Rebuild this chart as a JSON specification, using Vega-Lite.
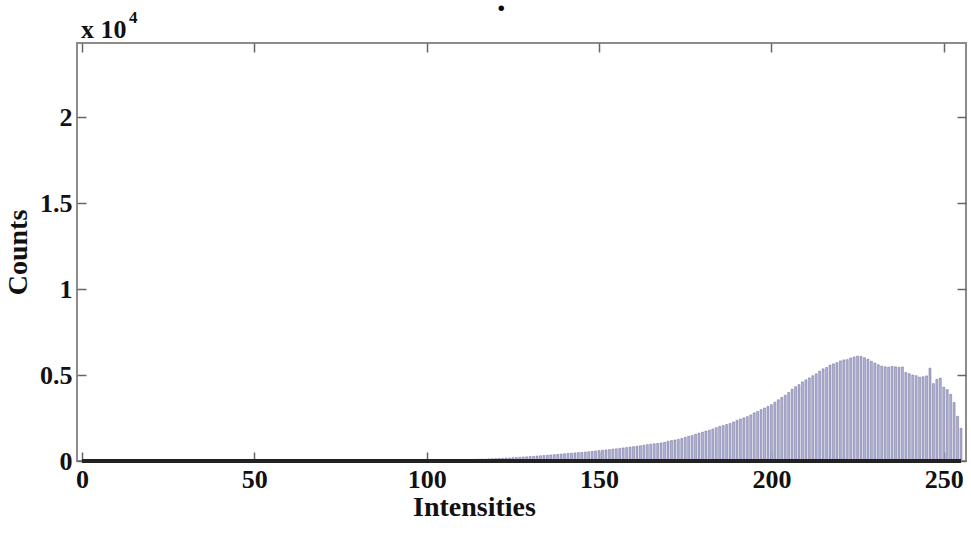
{
  "$schema": "https://vega.github.io/schema/vega-lite/v6.json",
  "width": 889,
  "height": 418,
  "autosize": "none",
  "padding": {"left": 77, "top": 43, "right": 5, "bottom": 76},
  "background": "white",
  "config": {
    "view": {"stroke": "#8c8c8c", "strokeWidth": 2},
    "font": "Liberation Serif"
  },
  "data": {
    "values": [
      {"intensity": 0, "count": 0}, {"intensity": 1, "count": 0}, {"intensity": 2, "count": 0}, {"intensity": 3, "count": 0},
      {"intensity": 4, "count": 0}, {"intensity": 5, "count": 0}, {"intensity": 6, "count": 0}, {"intensity": 7, "count": 0},
      {"intensity": 8, "count": 0}, {"intensity": 9, "count": 0}, {"intensity": 10, "count": 0}, {"intensity": 11, "count": 0},
      {"intensity": 12, "count": 0}, {"intensity": 13, "count": 0}, {"intensity": 14, "count": 0}, {"intensity": 15, "count": 0},
      {"intensity": 16, "count": 0}, {"intensity": 17, "count": 0}, {"intensity": 18, "count": 0}, {"intensity": 19, "count": 0},
      {"intensity": 20, "count": 0}, {"intensity": 21, "count": 0}, {"intensity": 22, "count": 0}, {"intensity": 23, "count": 0},
      {"intensity": 24, "count": 0}, {"intensity": 25, "count": 0}, {"intensity": 26, "count": 0}, {"intensity": 27, "count": 0},
      {"intensity": 28, "count": 0}, {"intensity": 29, "count": 0}, {"intensity": 30, "count": 0}, {"intensity": 31, "count": 0},
      {"intensity": 32, "count": 0}, {"intensity": 33, "count": 0}, {"intensity": 34, "count": 0}, {"intensity": 35, "count": 0},
      {"intensity": 36, "count": 0}, {"intensity": 37, "count": 0}, {"intensity": 38, "count": 0}, {"intensity": 39, "count": 0},
      {"intensity": 40, "count": 0}, {"intensity": 41, "count": 0}, {"intensity": 42, "count": 0}, {"intensity": 43, "count": 0},
      {"intensity": 44, "count": 0}, {"intensity": 45, "count": 0}, {"intensity": 46, "count": 0}, {"intensity": 47, "count": 0},
      {"intensity": 48, "count": 0}, {"intensity": 49, "count": 0}, {"intensity": 50, "count": 0}, {"intensity": 51, "count": 0},
      {"intensity": 52, "count": 0}, {"intensity": 53, "count": 0}, {"intensity": 54, "count": 0}, {"intensity": 55, "count": 0},
      {"intensity": 56, "count": 0}, {"intensity": 57, "count": 0}, {"intensity": 58, "count": 0}, {"intensity": 59, "count": 0},
      {"intensity": 60, "count": 0}, {"intensity": 61, "count": 0}, {"intensity": 62, "count": 0}, {"intensity": 63, "count": 0},
      {"intensity": 64, "count": 0}, {"intensity": 65, "count": 0}, {"intensity": 66, "count": 0}, {"intensity": 67, "count": 0},
      {"intensity": 68, "count": 0}, {"intensity": 69, "count": 0}, {"intensity": 70, "count": 0}, {"intensity": 71, "count": 0},
      {"intensity": 72, "count": 0}, {"intensity": 73, "count": 0}, {"intensity": 74, "count": 0}, {"intensity": 75, "count": 0},
      {"intensity": 76, "count": 0}, {"intensity": 77, "count": 0}, {"intensity": 78, "count": 0}, {"intensity": 79, "count": 0},
      {"intensity": 80, "count": 0}, {"intensity": 81, "count": 0}, {"intensity": 82, "count": 0}, {"intensity": 83, "count": 0},
      {"intensity": 84, "count": 0}, {"intensity": 85, "count": 0}, {"intensity": 86, "count": 0}, {"intensity": 87, "count": 0},
      {"intensity": 88, "count": 0}, {"intensity": 89, "count": 0}, {"intensity": 90, "count": 0}, {"intensity": 91, "count": 0},
      {"intensity": 92, "count": 0}, {"intensity": 93, "count": 0}, {"intensity": 94, "count": 0}, {"intensity": 95, "count": 0},
      {"intensity": 96, "count": 2}, {"intensity": 97, "count": 4}, {"intensity": 98, "count": 8}, {"intensity": 99, "count": 12},
      {"intensity": 100, "count": 20}, {"intensity": 101, "count": 25}, {"intensity": 102, "count": 28}, {"intensity": 103, "count": 32},
      {"intensity": 104, "count": 38}, {"intensity": 105, "count": 42}, {"intensity": 106, "count": 48}, {"intensity": 107, "count": 52},
      {"intensity": 108, "count": 58}, {"intensity": 109, "count": 63}, {"intensity": 110, "count": 70}, {"intensity": 111, "count": 76},
      {"intensity": 112, "count": 82}, {"intensity": 113, "count": 90}, {"intensity": 114, "count": 96}, {"intensity": 115, "count": 104},
      {"intensity": 116, "count": 112}, {"intensity": 117, "count": 118}, {"intensity": 118, "count": 126}, {"intensity": 119, "count": 134},
      {"intensity": 120, "count": 140}, {"intensity": 121, "count": 150}, {"intensity": 122, "count": 158}, {"intensity": 123, "count": 170},
      {"intensity": 124, "count": 180}, {"intensity": 125, "count": 192}, {"intensity": 126, "count": 204}, {"intensity": 127, "count": 216},
      {"intensity": 128, "count": 230}, {"intensity": 129, "count": 244}, {"intensity": 130, "count": 258}, {"intensity": 131, "count": 272},
      {"intensity": 132, "count": 290}, {"intensity": 133, "count": 305}, {"intensity": 134, "count": 320}, {"intensity": 135, "count": 338},
      {"intensity": 136, "count": 352}, {"intensity": 137, "count": 368}, {"intensity": 138, "count": 390}, {"intensity": 139, "count": 405},
      {"intensity": 140, "count": 425}, {"intensity": 141, "count": 440}, {"intensity": 142, "count": 455}, {"intensity": 143, "count": 472},
      {"intensity": 144, "count": 490}, {"intensity": 145, "count": 505}, {"intensity": 146, "count": 525}, {"intensity": 147, "count": 540},
      {"intensity": 148, "count": 560}, {"intensity": 149, "count": 585}, {"intensity": 150, "count": 605}, {"intensity": 151, "count": 625},
      {"intensity": 152, "count": 645}, {"intensity": 153, "count": 665}, {"intensity": 154, "count": 690}, {"intensity": 155, "count": 710},
      {"intensity": 156, "count": 735}, {"intensity": 157, "count": 760}, {"intensity": 158, "count": 785}, {"intensity": 159, "count": 810},
      {"intensity": 160, "count": 835}, {"intensity": 161, "count": 860}, {"intensity": 162, "count": 890}, {"intensity": 163, "count": 920},
      {"intensity": 164, "count": 950}, {"intensity": 165, "count": 980}, {"intensity": 166, "count": 1000}, {"intensity": 167, "count": 1020},
      {"intensity": 168, "count": 1050}, {"intensity": 169, "count": 1090}, {"intensity": 170, "count": 1150}, {"intensity": 171, "count": 1190},
      {"intensity": 172, "count": 1220}, {"intensity": 173, "count": 1260}, {"intensity": 174, "count": 1310}, {"intensity": 175, "count": 1380},
      {"intensity": 176, "count": 1440}, {"intensity": 177, "count": 1480}, {"intensity": 178, "count": 1560}, {"intensity": 179, "count": 1620},
      {"intensity": 180, "count": 1680}, {"intensity": 181, "count": 1740}, {"intensity": 182, "count": 1790}, {"intensity": 183, "count": 1860},
      {"intensity": 184, "count": 1940}, {"intensity": 185, "count": 2010}, {"intensity": 186, "count": 2060}, {"intensity": 187, "count": 2120},
      {"intensity": 188, "count": 2180}, {"intensity": 189, "count": 2270}, {"intensity": 190, "count": 2370}, {"intensity": 191, "count": 2440},
      {"intensity": 192, "count": 2510}, {"intensity": 193, "count": 2580}, {"intensity": 194, "count": 2680}, {"intensity": 195, "count": 2800},
      {"intensity": 196, "count": 2880}, {"intensity": 197, "count": 2990}, {"intensity": 198, "count": 3080}, {"intensity": 199, "count": 3170},
      {"intensity": 200, "count": 3280}, {"intensity": 201, "count": 3420}, {"intensity": 202, "count": 3560}, {"intensity": 203, "count": 3700},
      {"intensity": 204, "count": 3820}, {"intensity": 205, "count": 3990}, {"intensity": 206, "count": 4180}, {"intensity": 207, "count": 4320},
      {"intensity": 208, "count": 4440}, {"intensity": 209, "count": 4600}, {"intensity": 210, "count": 4720}, {"intensity": 211, "count": 4830},
      {"intensity": 212, "count": 4960}, {"intensity": 213, "count": 5070}, {"intensity": 214, "count": 5230}, {"intensity": 215, "count": 5360},
      {"intensity": 216, "count": 5440}, {"intensity": 217, "count": 5580}, {"intensity": 218, "count": 5650}, {"intensity": 219, "count": 5720},
      {"intensity": 220, "count": 5820}, {"intensity": 221, "count": 5880}, {"intensity": 222, "count": 5900}, {"intensity": 223, "count": 5990},
      {"intensity": 224, "count": 6050}, {"intensity": 225, "count": 6100}, {"intensity": 226, "count": 6080}, {"intensity": 227, "count": 6010},
      {"intensity": 228, "count": 5920}, {"intensity": 229, "count": 5800}, {"intensity": 230, "count": 5700}, {"intensity": 231, "count": 5600},
      {"intensity": 232, "count": 5520}, {"intensity": 233, "count": 5480}, {"intensity": 234, "count": 5460}, {"intensity": 235, "count": 5500},
      {"intensity": 236, "count": 5480}, {"intensity": 237, "count": 5450}, {"intensity": 238, "count": 5470}, {"intensity": 239, "count": 5150},
      {"intensity": 240, "count": 5080}, {"intensity": 241, "count": 5000}, {"intensity": 242, "count": 4960}, {"intensity": 243, "count": 4880},
      {"intensity": 244, "count": 4900}, {"intensity": 245, "count": 4950}, {"intensity": 246, "count": 5400}, {"intensity": 247, "count": 4500},
      {"intensity": 248, "count": 4750}, {"intensity": 249, "count": 4820}, {"intensity": 250, "count": 4300}, {"intensity": 251, "count": 4150},
      {"intensity": 252, "count": 3880}, {"intensity": 253, "count": 3400}, {"intensity": 254, "count": 2600}, {"intensity": 255, "count": 1900}
    ]
  },
  "resolve": {
    "scale": {"x": "shared", "y": "shared"},
    "axis": {"x": "independent", "y": "independent"}
  },
  "layer": [
    {
      "mark": {"type": "bar", "width": 2.0, "fill": "#b0b0d8", "stroke": "#6e6e92", "strokeWidth": 0.5, "clip": true},
      "encoding": {
        "x": {
          "field": "intensity",
          "type": "quantitative",
          "scale": {"domain": [0, 255], "nice": false, "zero": false},
          "axis": {
            "orient": "bottom",
            "values": [0, 50, 100, 150, 200, 250],
            "domain": false,
            "grid": false,
            "tickSize": -9,
            "tickColor": "#666",
            "tickWidth": 1.5,
            "labelPadding": 14,
            "labelFont": "Liberation Serif",
            "labelFontSize": 26,
            "labelFontWeight": "bold",
            "labelColor": "#111",
            "labelFlush": false,
            "title": "Intensities",
            "titleFont": "Liberation Serif",
            "titleFontSize": 28,
            "titleFontWeight": "bold",
            "titleColor": "#111",
            "titleX": 397,
            "titlePadding": 1
          }
        },
        "y": {
          "field": "count",
          "type": "quantitative",
          "scale": {"domain": [0, 24310], "nice": false},
          "axis": {
            "orient": "left",
            "values": [0, 5000, 10000, 15000, 20000],
            "labelExpr": "datum.value / 10000",
            "domain": false,
            "grid": false,
            "tickSize": -9,
            "tickColor": "#666",
            "tickWidth": 1.5,
            "labelPadding": 14,
            "labelFont": "Liberation Serif",
            "labelFontSize": 26,
            "labelFontWeight": "bold",
            "labelColor": "#111",
            "labelFlush": false,
            "title": "Counts",
            "titleFont": "Liberation Serif",
            "titleFontSize": 28,
            "titleFontWeight": "bold",
            "titleColor": "#111",
            "titlePadding": 7
          }
        }
      }
    },
    {
      "mark": {"type": "rule", "color": "#222", "strokeWidth": 3.5},
      "encoding": {
        "x": {
          "datum": 0,
          "type": "quantitative",
          "axis": {"orient": "top", "values": [0, 50, 100, 150, 200, 250], "labels": false, "domain": false, "grid": false, "tickSize": -9, "tickColor": "#666", "tickWidth": 1.5, "title": null}
        },
        "x2": {"datum": 255},
        "y": {
          "datum": 0,
          "type": "quantitative",
          "axis": {"orient": "right", "values": [0, 5000, 10000, 15000, 20000], "labels": false, "domain": false, "grid": false, "tickSize": -9, "tickColor": "#666", "tickWidth": 1.5, "title": null}
        }
      }
    },
    {
      "data": {"values": [{"base": "x 10", "exponent": "4", "heading": ".", "headingAt": 121.6}]},
      "layer": [
        {
          "mark": {"type": "text", "font": "Liberation Serif", "fontSize": 26, "fontWeight": "bold", "align": "left", "baseline": "alphabetic", "dy": -5, "dx": -1, "color": "#111"},
          "encoding": {
            "x": {"datum": 0, "type": "quantitative", "axis": null},
            "y": {"datum": 24310, "type": "quantitative", "axis": null},
            "text": {"field": "base"}
          }
        },
        {
          "mark": {"type": "text", "font": "Liberation Serif", "fontSize": 17, "fontWeight": "bold", "align": "left", "baseline": "alphabetic", "dy": -20, "dx": 47, "color": "#111"},
          "encoding": {
            "x": {"datum": 0, "type": "quantitative", "axis": null},
            "y": {"datum": 24310, "type": "quantitative", "axis": null},
            "text": {"field": "exponent"}
          }
        },
        {
          "mark": {"type": "text", "font": "Liberation Serif", "fontSize": 34, "fontWeight": "bold", "align": "center", "baseline": "alphabetic", "dy": -32, "color": "#000"},
          "encoding": {
            "x": {"field": "headingAt", "type": "quantitative", "axis": null},
            "y": {"datum": 24310, "type": "quantitative", "axis": null},
            "text": {"field": "heading"}
          }
        }
      ]
    }
  ]
}
